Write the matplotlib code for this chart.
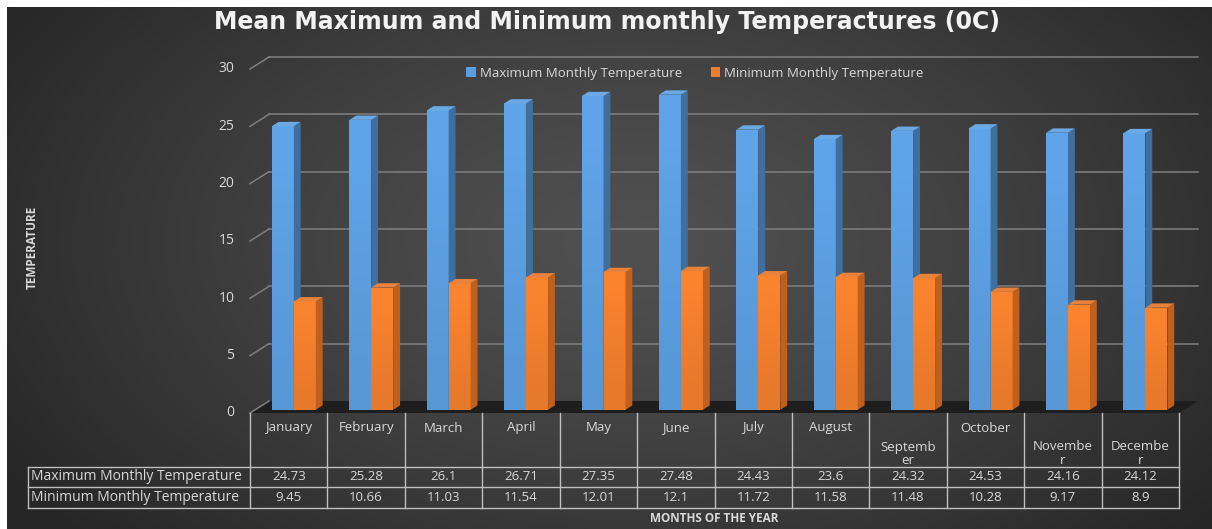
import numpy as np
import matplotlib
matplotlib.use('Agg')
import matplotlib.pyplot as plt
import matplotlib.transforms as mtransforms
from matplotlib.patches import Polygon, Rectangle, Patch

months = ['January', 'February', 'March', 'April', 'May', 'June', 'July',
          'August', 'Septemb\ner', 'October', 'Novembe\nr', 'Decembe\nr']
max_temp = [24.73, 25.28, 26.1, 26.71, 27.35, 27.48, 24.43, 23.6, 24.32, 24.53, 24.16, 24.12]
min_temp = [9.45, 10.66, 11.03, 11.54, 12.01, 12.1, 11.72, 11.58, 11.48, 10.28, 9.17, 8.9]
series = ['Maximum Monthly Temperature', 'Minimum Monthly Temperature']
yticks = [0, 5, 10, 15, 20, 25, 30]

W, H, DPI = 1212, 529, 100
txt = '#d9d9d9'
font = 'Open Sans'

fig = plt.figure(figsize=(W / DPI, H / DPI), dpi=DPI, facecolor='white')

# pixel transform (y measured from top)
pix = mtransforms.Affine2D().scale(1, -1).translate(0, H).scale(1 / DPI) + fig.dpi_scale_trans

# background gradient
bg = fig.add_axes([7 / W, 0, 1 - 7 / W, (H - 7) / H])
bg.set_axis_off()
gx, gy = np.meshgrid(np.linspace(0, 1, 400), np.linspace(0, 1, 200))
r = np.sqrt(((gx - 0.52) / 0.62) ** 2 + ((gy - 0.45) / 0.85) ** 2)
r = np.clip(r, 0, 1) ** 1.3
c0, c1 = np.array([0x50, 0x50, 0x50]) / 255, np.array([0x26, 0x26, 0x26]) / 255
img = c0[None, None, :] * (1 - r[..., None]) + c1[None, None, :] * r[..., None]
bg.imshow(img, aspect='auto', extent=(0, 1, 1, 0))
bg.set_xlim(0, 1)
bg.set_ylim(1, 0)

# main axes = front plane of the 3D plot
ax = fig.add_axes([250 / W, (H - 413) / H, 929 / W, 344 / H])
ax.set_xlim(0, 12)
ax.set_ylim(0, 30)
ax.set_axis_off()
ax.patch.set_alpha(0)

sx = ax.transData.transform((1, 0))[0] - ax.transData.transform((0, 0))[0]
sy = ax.transData.transform((0, 1))[1] - ax.transData.transform((0, 0))[1]
DX, DY = 19 / sx, 12 / sy  # depth of the plot in data units


def d(x, y, f):
    return (x + DX * f, y + DY * f)


# floor
ax.add_patch(Polygon([d(0, 0, 0), d(12, 0, 0), d(12, 0, 1), d(0, 0, 1)],
                     closed=True, fc='#1e1e1e', ec='none', clip_on=False, zorder=1))

# gridlines on back wall + left diagonals
for t in yticks:
    if t > 0:
        ax.plot([d(0, t, 1)[0], d(12, t, 1)[0]], [d(0, t, 1)[1]] * 2, color='#808080',
                lw=1.1, clip_on=False, zorder=1)
    ax.plot([0, d(0, t, 1)[0]], [t, d(0, t, 1)[1]], color='#808080', lw=1.1,
            clip_on=False, zorder=1)
    ax.text(-0.2, t, str(t), color=txt, fontsize=10, family=font, ha='right',
            va='center')

# 3D bars
w = 0.284
f0, f1 = 0.27, 0.63
styles = [('#5b9dde', '#3f6f9f', '#6aa9e4'), ('#ef7d2c', '#c0601c', '#e8813c')]
grad = np.array([[1.05], [1.02], [0.99], [0.97]])
for i in range(12):
    for k, vals in enumerate([max_temp, min_temp]):
        v = vals[i]
        xl = i + 0.5 - w + k * w
        xr = xl + w
        front, side, top = styles[k]
        fx, fy = d(xl, 0, f0)
        rect = Rectangle((fx, fy), w, v, fc=front, ec='none', clip_on=False, zorder=2)
        ax.add_patch(rect)
        base = np.array(matplotlib.colors.to_rgb(front))
        g = np.clip(base[None, None, :] * grad[..., None], 0, 1)
        im = ax.imshow(g, extent=(fx, fx + w, fy, fy + v), aspect='auto',
                       origin='upper', zorder=2, interpolation='bilinear')
        im.set_clip_path(rect)
        ax.add_patch(Polygon([d(xr, 0, f0), d(xr, 0, f1), d(xr, v, f1), d(xr, v, f0)],
                             closed=True, fc=side, ec='none', clip_on=False, zorder=2))
        ax.add_patch(Polygon([d(xl, v, f0), d(xr, v, f0), d(xr, v, f1), d(xl, v, f1)],
                             closed=True, fc=top, ec='none', clip_on=False, zorder=2))
ax.set_xlim(0, 12)
ax.set_ylim(0, 30)

# data table
tb = mtransforms.blended_transform_factory(ax.transData, pix)
lc = '#bfbfbf'
rows_y = [413, 467, 487, 508]
for i in range(13):
    ax.plot([i, i], [413, 508], color=lc, lw=1, transform=tb, clip_on=False)
for yy in rows_y[1:]:
    ax.plot([28, 1179], [yy, yy], color=lc, lw=1, transform=pix, clip_on=False)
ax.plot([28, 28], [467, 508], color=lc, lw=1, transform=pix, clip_on=False)

for i, m in enumerate(months):
    ty = 454 if '\n' in m else 428
    ax.text(i + 0.5, ty, m, transform=tb, ha='center', va='center', color=txt,
            fontsize=9.5, family=font, linespacing=1.1)
    ax.text(i + 0.5, 477, '%g' % max_temp[i], transform=tb, ha='center', va='center',
            color=txt, fontsize=9.5, family=font)
    ax.text(i + 0.5, 497.5, '%g' % min_temp[i], transform=tb, ha='center', va='center',
            color=txt, fontsize=9.5, family=font)
for name, yy in zip(series, [477, 497.5]):
    ax.text(31, yy, name, transform=pix, ha='left', va='center', color=txt,
            fontsize=10, family=font)

# titles
fig.text(607, 22, 'Mean Maximum and Minimum monthly Temperactures (0C)', transform=pix,
         ha='center', va='center', color='#f2f2f2', fontsize=17, fontweight='bold',
         family='DejaVu Sans')
fig.text(32, 247, 'TEMPERATURE', transform=pix, rotation=90, ha='center', va='center',
         color=txt, fontsize=8.5, fontweight='bold', family=font)
fig.text(714, 518, 'MONTHS OF THE YEAR', transform=pix, ha='center', va='center',
         color=txt, fontsize=8.5, fontweight='bold', family=font)

# legend
handles = [Patch(fc=styles[0][0]), Patch(fc=styles[1][0])]
leg = fig.legend(handles, series, loc='center', bbox_to_anchor=(695, 73),
                 bbox_transform=pix, ncol=2, frameon=False,
                 handlelength=0.7, handleheight=0.7, handletextpad=0.3,
                 columnspacing=2.2, prop={'family': font, 'size': 9.5})
for t in leg.get_texts():
    t.set_color(txt)

fig.savefig('out.png', dpi=DPI, facecolor='white')
